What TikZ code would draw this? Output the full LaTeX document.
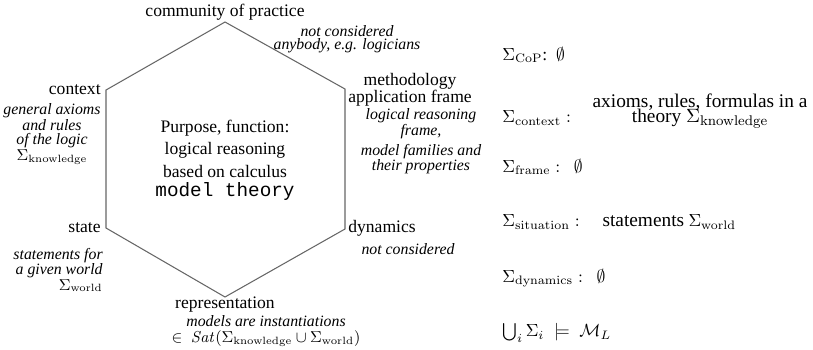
\documentclass[tikz,border=0pt]{standalone}
\usepackage{amsmath,amssymb}
\usepackage[no-math]{fontspec}
\setmainfont{Liberation Serif}
\setmonofont{Liberation Mono}
\usepackage{tikz}

\tikzset{
  corner/.style={inner sep=0pt},
  annot/.style={font=\small\itshape,align=center,inner sep=0pt},
  sigline/.style={anchor=west,inner sep=0pt},
}

\begin{document}
\begin{tikzpicture}[x=0.02cm,y=0.02cm]
\useasboundingbox (0,0) rectangle (813,349);

% hexagon corners
\coordinate (cop) at (225,327);
\coordinate (ctx) at (106,259);
\coordinate (frm) at (345,260);
\coordinate (sta) at (106,121);
\coordinate (dyn) at (345,120);
\coordinate (rep) at (225,52);
\draw[black!60,line width=0.6pt] (cop) -- (frm) -- (dyn) -- (rep) -- (sta) -- (ctx) -- cycle;

\node[align=center] (mid) at (225,189) {Purpose, function:\\[0.8pt] logical reasoning\\[0.8pt] based on calculus\\[-1pt] {\fontsize{11}{12}\selectfont\texttt{model theory}}};

\node[corner] (copL) at (225,337) {community of practice};
\node[annot] (copN) at (347,310) {not considered\\[-3.8pt] anybody, e.g. logicians};

\node[corner,anchor=east] (ctxL) at (101,259) {context};
\node[annot] (ctxN) at (52,215) {general axioms\\[-2pt] and rules\\[-3pt] of the logic\\[-2pt] $\Sigma_{\mathrm{knowledge}}$};

\node[corner,align=center] (frmL) at (410,259) {methodology\\[-2.5pt] application frame};
\node[annot] (frmN) at (421,208) {logical reasoning\\[-2pt] frame,\\[0.5pt] model families and\\[-2.5pt] their properties};

\node[corner,anchor=east] (staL) at (101,121) {state};
\node[annot,align=right,anchor=east] (staN) at (103,79) {statements for\\[-2.5pt] a given world\\[-2pt] $\Sigma_{\mathrm{world}}$};

\node[corner,anchor=west] (dynL) at (348,121) {dynamics};
\node[annot] (dynN) at (408,100) {not considered};

\node[corner] (repL) at (225,44) {representation};
\node[annot] (repN) at (266,18) {models are instantiations\\[-2pt] \upshape$\in\ \mathit{Sat}(\Sigma_{\mathrm{knowledge}}\cup\Sigma_{\mathrm{world}})$};

% the sigma column
\node[sigline] (sCoP) at (502,294) {$\Sigma_{\mathrm{CoP}}$:\hspace{5pt}$\emptyset$};
\node[sigline] (sCtx) at (502,231) {$\Sigma_{\mathrm{context}}:$};
\node[align=center,font=\fontsize{11}{12}\selectfont] (sCtxT) at (700,238) {axioms, rules, formulas in a\\[-3.8pt] theory $\Sigma_{\mathrm{knowledge}}$};
\node[sigline] (sFrm) at (502,182) {$\Sigma_{\mathrm{frame}}:\ \ \emptyset$};
\node[sigline] (sSit) at (502,127) {$\Sigma_{\mathrm{situation}}:$\hspace{13pt}{\fontsize{11}{12}\selectfont statements} $\Sigma_{\mathrm{world}}$};
\node[sigline] (sDyn) at (502,71) {$\Sigma_{\mathrm{dynamics}}:\ \ \emptyset$};
\node[sigline] (sAll) at (502,16) {$\bigcup_i\Sigma_i\;\models\;\mathcal{M}_L$};
\end{tikzpicture}
\end{document}
